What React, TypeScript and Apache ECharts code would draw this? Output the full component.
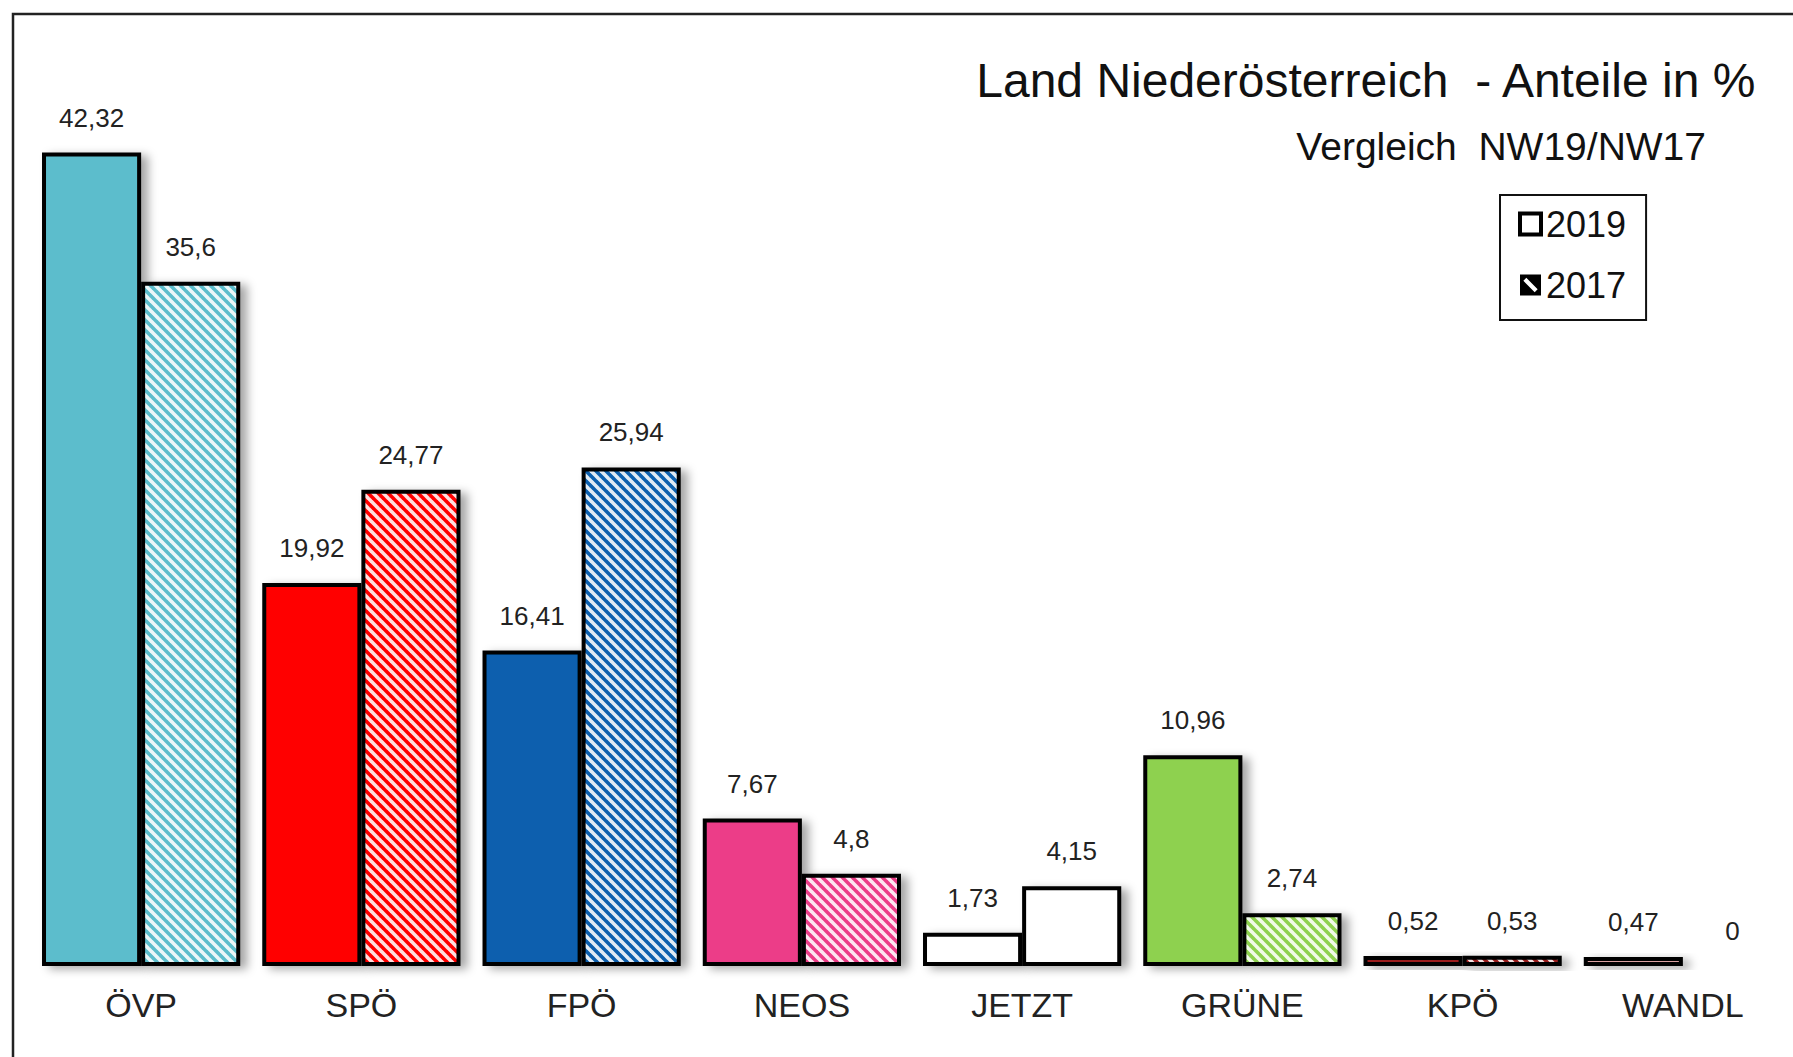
import React, { useEffect, useRef } from "react";
import * as echarts from "echarts";

const categories = ["ÖVP", "SPÖ", "FPÖ", "NEOS", "JETZT", "GRÜNE", "KPÖ", "WANDL"];
const values2019 = [42.32, 19.92, 16.41, 7.67, 1.73, 10.96, 0.52, 0.47];
const values2017 = [35.6, 24.77, 25.94, 4.8, 4.15, 2.74, 0.53, 0];
const partyColors = ["#5bbdcc", "#ff0000", "#0a5fae", "#ec3c88", "#ffffff", "#8ed14f", "#9b1a1a", "#d9a0a0"];
const titleText = "Land Niederösterreich  - Anteile in %";
const subtitleText = "Vergleich  NW19/NW17";
const seriesNames = ["2019", "2017"];

const FONT = "'Liberation Sans', Arial, sans-serif";

const shadow = {
  shadowColor: "rgba(0,0,0,0.35)",
  shadowBlur: 10,
  shadowOffsetX: 7,
  shadowOffsetY: 3,
};

function hatchPattern(base: string) {
  const size = 10;
  const c = document.createElement("canvas");
  c.width = size;
  c.height = size;
  const ctx = c.getContext("2d")!;
  ctx.fillStyle = base;
  ctx.fillRect(0, 0, size, size);
  ctx.strokeStyle = "rgba(255,255,255,0.88)";
  ctx.lineWidth = 3.6;
  for (let k = -1; k <= 1; k++) {
    ctx.beginPath();
    ctx.moveTo(k * size - 1, -1);
    ctx.lineTo(k * size + size + 1, size + 1);
    ctx.stroke();
  }
  return { image: c, repeat: "repeat" };
}

export default function App() {
  const ref = useRef<HTMLDivElement>(null);
  useEffect(() => {
    if (!ref.current) return;
    const chart = echarts.init(ref.current, null, { renderer: "svg" });
    const label = {
      show: true,
      position: "top",
      distance: 22,
      fontFamily: FONT,
      fontSize: 26,
      color: "#222",
      formatter: (p: any) => String(p.value).replace(".", ","),
    };
    const makeData = (vals: number[], hatched: boolean) =>
      vals.map((v, i) => ({
        value: v,
        itemStyle: {
          color: hatched && partyColors[i] !== "#ffffff" ? hatchPattern(partyColors[i]) : partyColors[i],
          borderColor: "#000",
          borderWidth: v === 0 ? 0 : 4,
        },
      }));
    chart.setOption({
      animation: false,
      backgroundColor: "#ffffff",
      textStyle: { fontFamily: FONT },
      title: [
        {
          text: titleText,
          right: 35,
          top: 56,
          padding: 0,
          textStyle: { fontFamily: FONT, fontSize: 48, fontWeight: "normal", color: "#111", lineHeight: 48 },
        },
        {
          text: subtitleText,
          right: 87,
          top: 127,
          padding: 0,
          textStyle: { fontFamily: FONT, fontSize: 39, fontWeight: "normal", color: "#111", lineHeight: 39 },
        },
      ],
      legend: {
        orient: "vertical",
        left: 1500,
        top: 195,
        padding: [9, 20, 15, 18],
        borderColor: "#111",
        borderWidth: 2,
        itemWidth: 21,
        itemHeight: 21,
        itemGap: 21,
        textStyle: { fontFamily: FONT, fontSize: 36, color: "#111", lineHeight: 40 },
        data: [
          { name: seriesNames[0], icon: "rect", itemStyle: { color: "#fff", borderColor: "#000", borderWidth: 4 } },
          {
            name: seriesNames[1],
            icon: "path://M0,0H10V10H0Z M3,1.6 L1.6,3 L7,8.4 L8.4,7 Z",
            itemStyle: { color: "#000", borderWidth: 0 },
          },
        ],
      },
      graphic: [
        {
          type: "rect",
          z: -10,
          silent: true,
          shape: { x: 13, y: 14, width: 1900, height: 1200 },
          style: { fill: "none", stroke: "#222", lineWidth: 2.5 },
        },
      ],
      grid: { left: 31, width: 1764, top: 101, bottom: 91, containLabel: false },
      xAxis: {
        type: "category",
        data: categories,
        axisLine: { show: false },
        axisTick: { show: false },
        axisLabel: { fontFamily: FONT, fontSize: 34, color: "#222", margin: 22 },
      },
      yAxis: { type: "value", min: 0, max: 45, show: false, splitLine: { show: false } },
      series: [
        {
          name: seriesNames[0],
          type: "bar",
          barGap: "0%",
          barCategoryGap: "10%",
          data: makeData(values2019, false),
          itemStyle: { ...shadow },
          label,
        },
        {
          name: seriesNames[1],
          type: "bar",
          barGap: "0%",
          barCategoryGap: "10%",
          data: makeData(values2017, true),
          itemStyle: { ...shadow },
          label,
        },
      ],
    });
    return () => chart.dispose();
  }, []);
  return <div ref={ref} style={{ position: "fixed", left: 0, top: 0, width: 1793, height: 1057 }} />;
}
